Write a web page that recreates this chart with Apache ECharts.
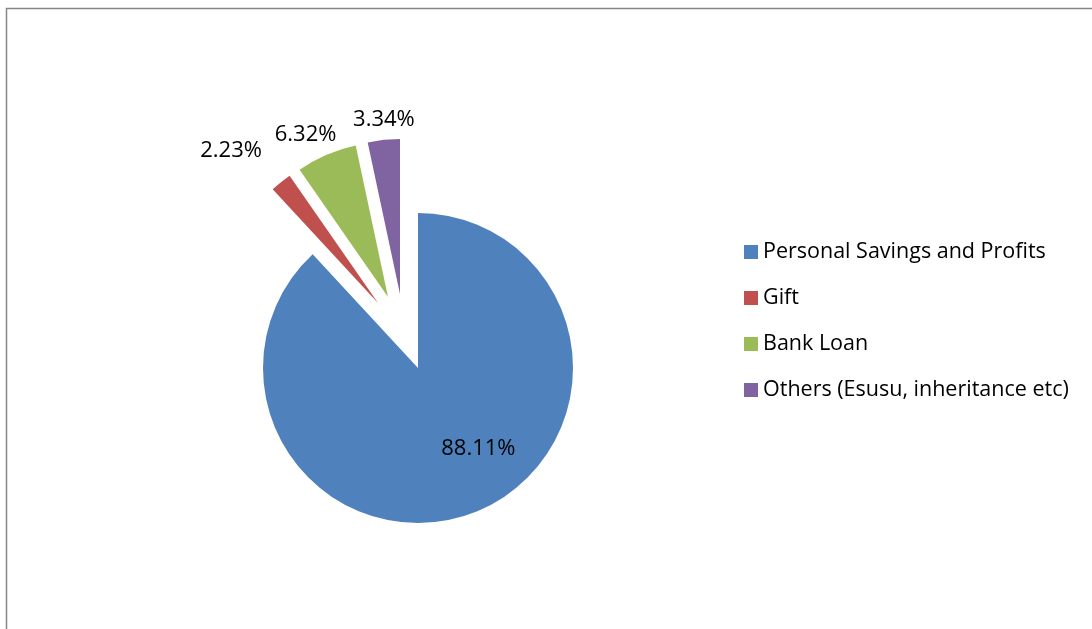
<!DOCTYPE html>
<html>
<head>
<meta charset="utf-8">
<script src="https://cdn.jsdelivr.net/npm/echarts@6/dist/echarts.min.js"></script>
<style>
html,body{margin:0;padding:0;background:#fff;}
#chart{width:1092px;height:629px;}
</style>
</head>
<body>
<div id="chart"></div>
<script>
var categories = ['Personal Savings and Profits', 'Gift', 'Bank Loan', 'Others (Esusu, inheritance etc)'];
var values = [88.11, 2.23, 6.32, 3.34];
var colors = ['#4F81BD', '#C0504D', '#9BBB59', '#8064A2'];

// layout: pie centre, radius, per-slice explosion shift and label nudges
var PIE_CENTER = [418, 368];
var PIE_RADIUS = 155;
var explodeShift = [[0, 0], [-40, -65], [-30, -71], [-18, -74]];
var labelNudge = [[31, 6], [-19, -31], [10, -20], [31, -20]];
var labelPos = ['inside', 'outside', 'outside', 'outside'];

var FONT = 'Open Sans';
var chart = echarts.init(document.getElementById('chart'));

function sum(arr, a, b) { var s = 0; for (var k = a; k < b; k++) s += arr[k]; return s; }

var series = categories.map(function (name, i) {
  var before = sum(values, 0, i);
  var after = sum(values, i + 1, values.length);
  var blank = { color: 'rgba(0,0,0,0)' };
  var items = [];
  if (before > 0) items.push({ name: '__before' + i, value: before, itemStyle: blank, label: { show: false } });
  items.push({ name: name, value: values[i], itemStyle: { color: colors[i] } });
  if (after > 0) items.push({ name: '__after' + i, value: after, itemStyle: blank, label: { show: false } });
  return {
    type: 'pie',
    center: [PIE_CENTER[0] + explodeShift[i][0], PIE_CENTER[1] + explodeShift[i][1]],
    radius: [0, PIE_RADIUS],
    startAngle: 90,
    clockwise: true,
    selectedMode: false,
    avoidLabelOverlap: false,
    emphasis: { disabled: true },
    silent: true,
    label: {
      show: true,
      position: labelPos[i],
      offset: labelNudge[i],
      formatter: function (p) { return p.value.toFixed(2) + '%'; },
      fontFamily: FONT,
      fontSize: 22,
      color: '#000'
    },
    labelLine: { show: false, length: 0, length2: 0 },
    labelLayout: { hideOverlap: false },
    distanceToLabelLine: 0,
    data: items
  };
});
series.forEach(function (s) { s.label.distanceToLabelLine = 0; });

chart.setOption({
  animation: false,
  backgroundColor: '#fff',
  graphic: [{
    type: 'rect',
    shape: { x: 6.5, y: 8.5, width: 1200, height: 800 },
    style: { fill: 'none', stroke: '#868686', lineWidth: 1.5 },
    silent: true
  }],
  legend: {
    orient: 'vertical',
    left: 744,
    top: 241,
    padding: 0,
    itemWidth: 14,
    itemHeight: 14,
    itemGap: 24,
    icon: 'rect',
    selectedMode: false,
    textStyle: { fontFamily: FONT, fontSize: 21.5, lineHeight: 22, color: '#000' },
    data: categories
  },
  series: series
});
</script>
</body>
</html>
